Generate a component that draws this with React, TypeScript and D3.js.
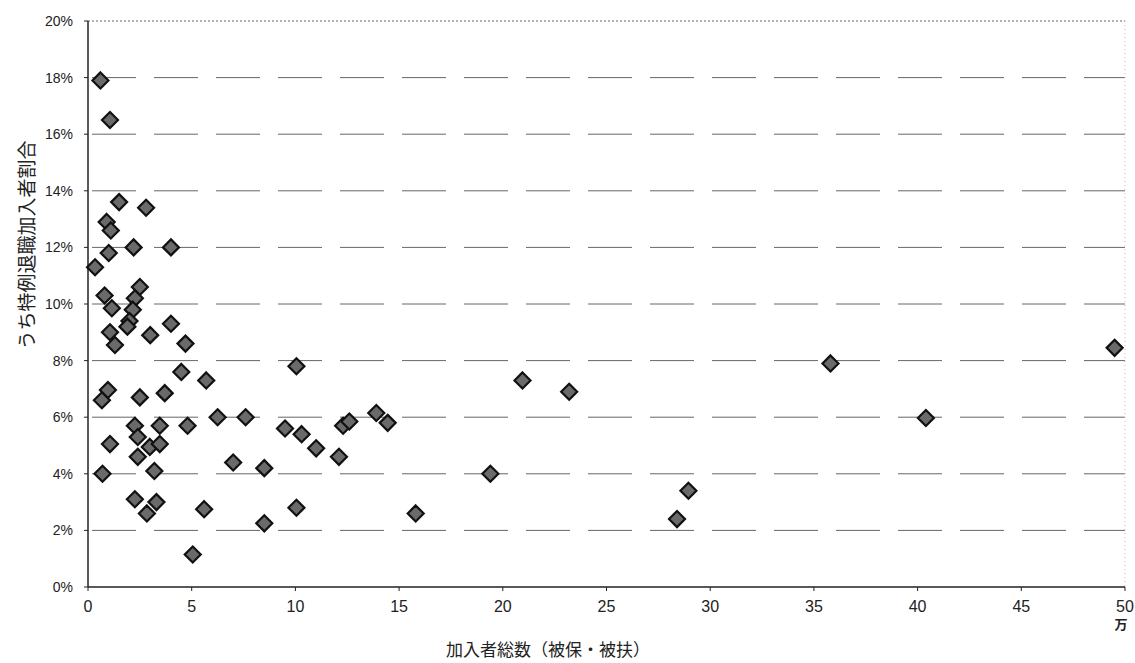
import React from 'react';
import * as d3 from 'd3';

const xs = [0.6, 1.06, 0.34, 0.9, 1.1, 1.0, 1.5, 2.2, 2.8, 4.0, 0.8, 1.15, 2.5, 2.26, 2.16, 2.0, 1.9, 1.06, 1.3, 3.0, 4.0, 4.7,
  4.5, 5.7, 10.05, 0.96, 0.67, 2.5, 3.7, 6.25, 7.6, 2.26, 3.46, 4.8, 2.4, 2.98, 3.46, 1.06, 2.4, 9.5, 10.3, 11.0, 12.3, 12.6,
  13.9, 12.1, 3.2, 7.0, 8.5, 0.7, 2.26, 3.3, 2.84, 5.6, 8.5, 10.05, 5.05, 14.45, 15.8, 19.4, 20.95, 23.2, 28.4, 28.95, 35.8, 40.4, 49.5];
const ys = [17.9, 16.5, 11.3, 12.9, 12.6, 11.8, 13.6, 12.0, 13.4, 12.0, 10.3, 9.85, 10.6, 10.2, 9.8, 9.4, 9.2, 9.0, 8.55, 8.9, 9.3, 8.6,
  7.6, 7.3, 7.8, 6.96, 6.6, 6.7, 6.85, 6.0, 6.0, 5.7, 5.7, 5.7, 5.3, 4.95, 5.05, 5.05, 4.6, 5.6, 5.4, 4.9, 5.7, 5.85,
  6.15, 4.6, 4.1, 4.4, 4.2, 4.0, 3.1, 3.0, 2.6, 2.75, 2.25, 2.8, 1.15, 5.8, 2.6, 4.0, 7.3, 6.9, 2.4, 3.4, 7.9, 5.97, 8.45];
const xTicks = [0, 5, 10, 15, 20, 25, 30, 35, 40, 45, 50];
const yTicks = [0, 2, 4, 6, 8, 10, 12, 14, 16, 18, 20];

const L = 88, R = 1125, T = 21, B = 587;
const font = '"Liberation Sans", Arial, sans-serif';
const jp = '"Noto Sans CJK JP", sans-serif';

export default function App() {
  const x = d3.scaleLinear().domain([0, 50]).range([L, R]);
  const y = d3.scaleLinear().domain([0, 20]).range([B, T]);
  return (
    <svg width={1135} height={663} style={{ position: 'absolute', left: 0, top: 0, background: '#fff' }}>
      {yTicks.slice(1).map(t => (
        <line key={t} x1={L} x2={R} y1={y(t)} y2={y(t)} stroke="#666" strokeWidth={1}
          strokeDasharray={t === 20 ? '2,2' : '44,18'} strokeDashoffset={-4} />
      ))}
      <line x1={R} x2={R} y1={T} y2={B} stroke="#bbb" strokeDasharray="1,3" />
      <line x1={L} x2={L} y1={T} y2={B} stroke="#222" strokeWidth={1.5} />
      <line x1={L} x2={R} y1={B} y2={B} stroke="#222" strokeWidth={1.5} />
      {yTicks.map(t => (
        <g key={t}>
          <line x1={L - 4} x2={L} y1={y(t)} y2={y(t)} stroke="#222" />
          <text x={73} y={y(t) + 5} textAnchor="end" fontFamily={font} fontSize={14} fill="#222">{t}%</text>
        </g>
      ))}
      {xTicks.map(t => (
        <g key={t}>
          <line x1={x(t)} x2={x(t)} y1={B} y2={B + 4} stroke="#222" />
          <text x={x(t)} y={612} textAnchor="middle" fontFamily={font} fontSize={16} fill="#222">{t}</text>
        </g>
      ))}
      <text x={1121} y={629} textAnchor="middle" fontFamily={jp} fontSize={13} fontWeight="bold" fill="#222">万</text>
      <text x={548} y={656} textAnchor="middle" fontFamily={jp} fontSize={17} fill="#222">加入者総数（被保・被扶）</text>
      <text transform="translate(34,245) rotate(-90)" textAnchor="middle" fontFamily={jp} fontSize={19} fill="#222">うち特例退職加入者割合</text>
      {xs.map((v, i) => {
        const cx = x(v), cy = y(ys[i]);
        return <path key={i} d={`M${cx},${cy - 8}L${cx + 8},${cy}L${cx},${cy + 8}L${cx - 8},${cy}Z`}
          fill="#6a6a6a" stroke="#111" strokeWidth={2.2} />;
      })}
    </svg>
  );
}
